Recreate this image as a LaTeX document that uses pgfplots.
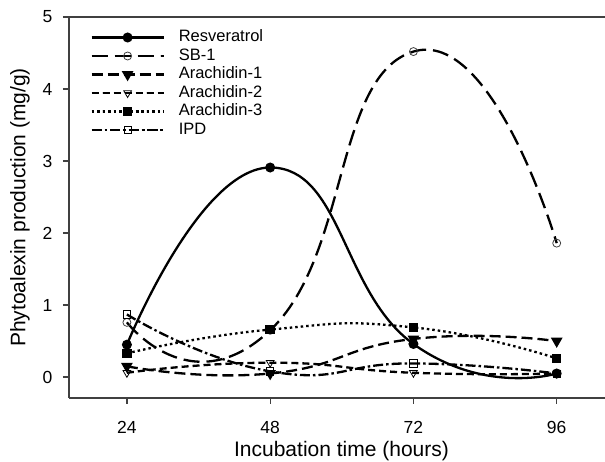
\documentclass[border=0pt]{standalone}
\usepackage{pgfplots}
\pgfplotsset{compat=1.18}
\usepackage{fontspec}
\setmainfont{Liberation Sans}
\begin{document}
\begin{tikzpicture}
\begin{axis}[
  scale only axis, width=545pt, height=381pt,
  xmin=14.3, xmax=105.6, ymin=-0.29, ymax=5,
  axis lines*=left, clip=false,
  axis line style={draw=black!75, line width=1.3pt},
  tick style={draw=black!75, line width=1.3pt},
  tick align=outside, major tick length=6pt,
  xtick={24,48,72,96}, ytick={0,1,2,3,4,5},
  /pgf/number format/assume math mode=true,
  ticklabel style={font=\fontsize{17.5}{20}\selectfont},
  xticklabel style={yshift=-14pt},
  yticklabel style={xshift=-7pt},
  xlabel={Incubation time (hours)},
  ylabel={Phytoalexin production (mg/g)},
  label style={font=\fontsize{21}{24}\selectfont},
  xlabel style={at={(axis description cs:0.5,-0.138)}, anchor=center},
  ylabel style={at={(axis description cs:-0.09,0.5)}, anchor=center},
  every axis plot/.append style={line width=2.3pt, black, smooth, tension=0.9},
  legend style={at={(axis description cs:0.039,0.971)}, anchor=north west,
    draw=none, fill=none, inner sep=0pt, row sep=0pt, column sep=12pt,
    font=\fontsize{16.5}{18}\selectfont,
    nodes={text height=11.5pt, text depth=3pt, inner sep=2pt}},
  legend cell align=left,
  legend image code/.code={\draw[mark repeat=2,mark phase=2] plot coordinates {(0pt,0pt) (36pt,0pt) (72pt,0pt)};},
]
\addplot[solid, mark=*, mark size=3.8pt] coordinates {(24,0.45) (48,2.91) (72,0.46) (96,0.05)};
\addlegendentry{Resveratrol}
\addplot[dash pattern=on 16pt off 7pt, mark=o, mark size=4pt, tension=1,
  mark options={solid, fill=white, line width=0.8pt, draw=black!75}] coordinates {(24,0.76) (48,0.65) (72,4.52) (96,1.86)};
\addlegendentry{SB-1}
\addplot[dash pattern=on 11pt off 5pt, mark=triangle*, mark size=4.5pt,
  mark options={solid, rotate=180}] coordinates {(24,0.15) (48,0.05) (72,0.53) (96,0.50)};
\addlegendentry{Arachidin-1}
\addplot[dash pattern=on 7pt off 4pt, mark=triangle, mark size=4.5pt,
  mark options={solid, rotate=180, fill=white, line width=0.8pt}] coordinates {(24,0.06) (48,0.20) (72,0.06) (96,0.05)};
\addlegendentry{Arachidin-2}
\addplot[dash pattern=on 2.5pt off 3pt, mark=square*, mark size=3.6pt,
  mark options={solid}] coordinates {(24,0.33) (48,0.66) (72,0.69) (96,0.26)};
\addlegendentry{Arachidin-3}
\addplot[dash pattern=on 10pt off 3pt on 2.5pt off 3pt, mark=square, mark size=3.6pt,
  mark options={solid, fill=white, line width=0.8pt}] coordinates {(24,0.87) (48,0.08) (72,0.19) (96,0.05)};
\addlegendentry{IPD}
\draw[draw=black!75, line width=1.3pt] (rel axis cs:0,1) -- (rel axis cs:1,1);
\coordinate (bl) at (rel axis cs:0,0);
\end{axis}
\pgfresetboundingbox
\path[use as bounding box] ([shift={(-69pt,-64pt)}]bl) rectangle ([shift={(536pt,398pt)}]bl);
\end{tikzpicture}
\end{document}
